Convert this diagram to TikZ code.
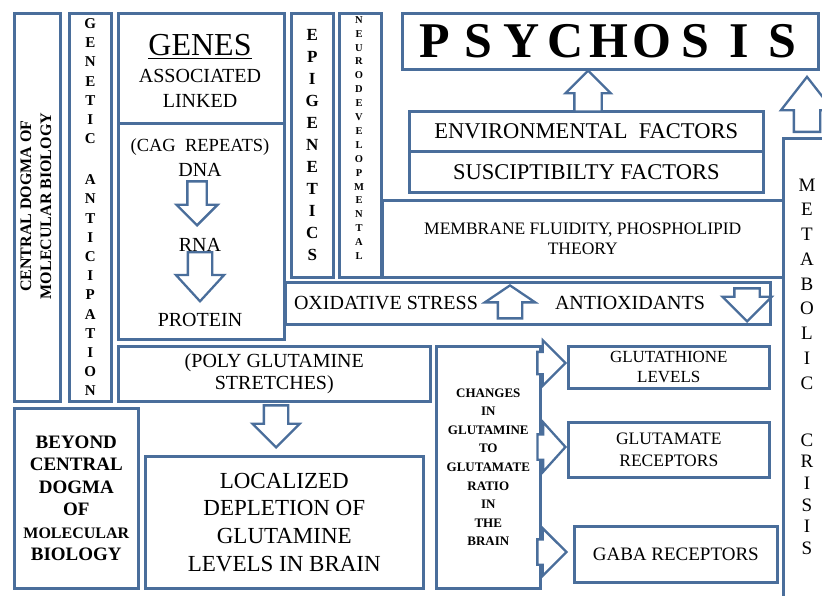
\documentclass[tikz,border=0pt]{standalone}
\usepackage{fontspec}
\setmainfont{Liberation Serif}
\usetikzlibrary{shapes.arrows,positioning}
\definecolor{framecol}{HTML}{4A6E9B}
\tikzset{
panel/.style={
  rectangle,
  draw=framecol,
  line width=2.6pt,
  inner sep=0pt,
  anchor=north west,
  align=center
  },
wh/.style 2 args={minimum width=#1, minimum height=#2},
lbl/.style={inner sep=0pt, align=center},
fnt/.style 2 args={font=\fontsize{#1}{#2}\selectfont},
bfnt/.style 2 args={font=\bfseries\fontsize{#1}{#2}\selectfont}
}
\tikzset{
  blockarrow/.style={
    single arrow,
    draw=framecol,
    fill=white,
    line width=2.3pt,
    inner xsep=0pt,
    minimum width=0pt,
    anchor=tip
  },
  arrowdims/.style n args={4}{
    inner ysep=#1,
    single arrow head extend=#2,
    minimum height=#3,
    single arrow tip angle=#4
  }
}

\begin{document}
\begin{tikzpicture}[x=1pt,y=-1pt]
\path[use as bounding box, fill=white] (0,0) rectangle (822,596);
\clip (0,0) rectangle (822,596);

% left columns
\node[panel, wh={46}{388}] (dogma) at (13,12) {};
\node[lbl, bfnt={16}{20}, rotate=90] (dogmatxt) at (36,206)
  {CENTRAL DOGMA OF\\MOLECULAR BIOLOGY};
\node[panel, wh={42}{388}, bfnt={15}{19.2}] (genetic) at (68,12)
  {G\\E\\N\\E\\T\\I\\C\\[21.8pt]A\\N\\T\\I\\C\\I\\P\\A\\T\\I\\O\\N};

% genes and central dogma
\node[panel, wh={166}{110}] (genes) at (117,12) {};
\node[lbl, fnt={32}{34}] (genestxt) at (200,45) {GENES};
\draw[line width=1.6pt] ([yshift=-3pt]genestxt.base west) -- ([yshift=-3pt]genestxt.base east);
\node[lbl, fnt={20}{25}] (assoc) at (200,88) {ASSOCIATED\\LINKED};
\node[panel, wh={166}{216}] (dna) at (117,122) {};
\node[lbl, fnt={18.5}{20}] (cag) at (200,147) {(CAG\ \ REPEATS)};
\node[lbl, fnt={20}{22}] (dnatxt) at (200,170) {DNA};
\node[lbl, fnt={20}{22}] (rnatxt) at (200,245) {RNA};
\node[lbl, fnt={20}{22}] (prottxt) at (200,320) {PROTEIN};
\node[blockarrow, arrowdims={8.5}{11}{44}{90}, rotate=-90] (dna2rna) at (197,227) {};
\node[blockarrow, arrowdims={11}{12}{49}{85}, rotate=-90] (rna2prot) at (200,303) {};

\node[panel, wh={42}{264}, bfnt={17}{22}] (epig) at (290,12)
  {E\\P\\I\\G\\E\\N\\E\\T\\I\\C\\S};
\node[panel, wh={42}{264}] (neuro) at (338,12) {};
\node[lbl, bfnt={10.5}{13.9}] (neurotxt) at (359,138)
  {N\\E\\U\\R\\O\\D\\E\\V\\E\\L\\O\\P\\M\\E\\N\\T\\A\\L};

% psychosis and factors
\node[panel, wh={416}{56}] (psych) at (401,12) {};
\foreach \l [count=\i from 0] in {P,S,Y,C,H,O,S,I,S}
  \node[lbl, bfnt={50}{52}] (ps\i) at (435+43.4*\i,41) {\l};
\node[panel, wh={354}{40}, fnt={22.5}{26}] (env) at (408,110) {ENVIRONMENTAL\ \ FACTORS};
\node[panel, wh={354}{41}, fnt={22.5}{26}] (susc) at (408,150) {SUSCIPTIBILTY FACTORS};
\node[blockarrow, arrowdims={12.5}{9}{41}{90}, rotate=90] (envup) at (588,69) {};

\node[panel, wh={80}{500}] (metab) at (782,137) {};
\node[lbl, fnt={19}{24.75}] (metabtxt) at (807,284) {M\\E\\T\\A\\B\\O\\L\\I\\C};
\node[lbl, fnt={19}{21.6}] (crisistxt) at (807,494) {C\\R\\I\\S\\I\\S};
\node[blockarrow, arrowdims={12}{13}{55}{76}, rotate=90] (metup) at (807,75) {};

\node[panel, wh={401}{77}, fnt={17.5}{20}] (membrane) at (381,199)
  {MEMBRANE FLUIDITY, PHOSPHOLIPID\\THEORY};
\node[panel, wh={485}{42}] (oxid) at (284,281) {};
\node[lbl, fnt={20}{22}] (oxtxt) at (386,303) {OXIDATIVE STRESS};
\node[lbl, fnt={20}{22}] (antitxt) at (630,303) {ANTIOXIDANTS};
\node[blockarrow, arrowdims={11}{13}{33}{112}, rotate=90] (oxup) at (510,284) {};
\node[blockarrow, arrowdims={11.5}{12}{33}{90}, rotate=-90] (axdown) at (747,323) {};

% glutamine
\node[panel, wh={312}{55}, fnt={20}{22}] (poly) at (117,345)
  {(POLY GLUTAMINE\\STRETCHES)};
\node[blockarrow, arrowdims={11}{11.5}{42}{90}, rotate=-90] (polydown) at (276,449) {};
\node[panel, wh={124}{180}, bfnt={19}{22.5}] (beyond) at (13,407)
  {BEYOND\\CENTRAL\\DOGMA\\OF\\{\fontsize{16}{22.5}\selectfont MOLECULAR}\\BIOLOGY};
\node[panel, wh={278}{132}, fnt={23}{27.7}] (local) at (144,455)
  {LOCALIZED\\DEPLETION OF\\GLUTAMINE\\LEVELS IN BRAIN};
\node[panel, wh={104}{242}, bfnt={13}{18.6}] (changes) at (435,345)
  {CHANGES\\IN\\GLUTAMINE\\TO\\GLUTAMATE\\RATIO\\IN\\THE\\BRAIN};
\node[panel, wh={201}{42}, fnt={17}{20}] (gluthi) at (567,345) {GLUTATHIONE\\LEVELS};
\node[panel, wh={201}{55}, fnt={17.5}{22}] (glutam) at (567,421) {GLUTAMATE\\RECEPTORS};
\node[panel, wh={203}{56}, fnt={19}{22}] (gaba) at (573,525) {GABA RECEPTORS};
\node[blockarrow, arrowdims={10}{11.5}{28}{90}] (toglut) at (567,363) {};
\node[blockarrow, arrowdims={11.5}{12}{28}{96}] (torec) at (567,447) {};
\node[blockarrow, arrowdims={11.5}{11}{29}{90}] (togaba) at (568,552) {};
\end{tikzpicture}
\end{document}
